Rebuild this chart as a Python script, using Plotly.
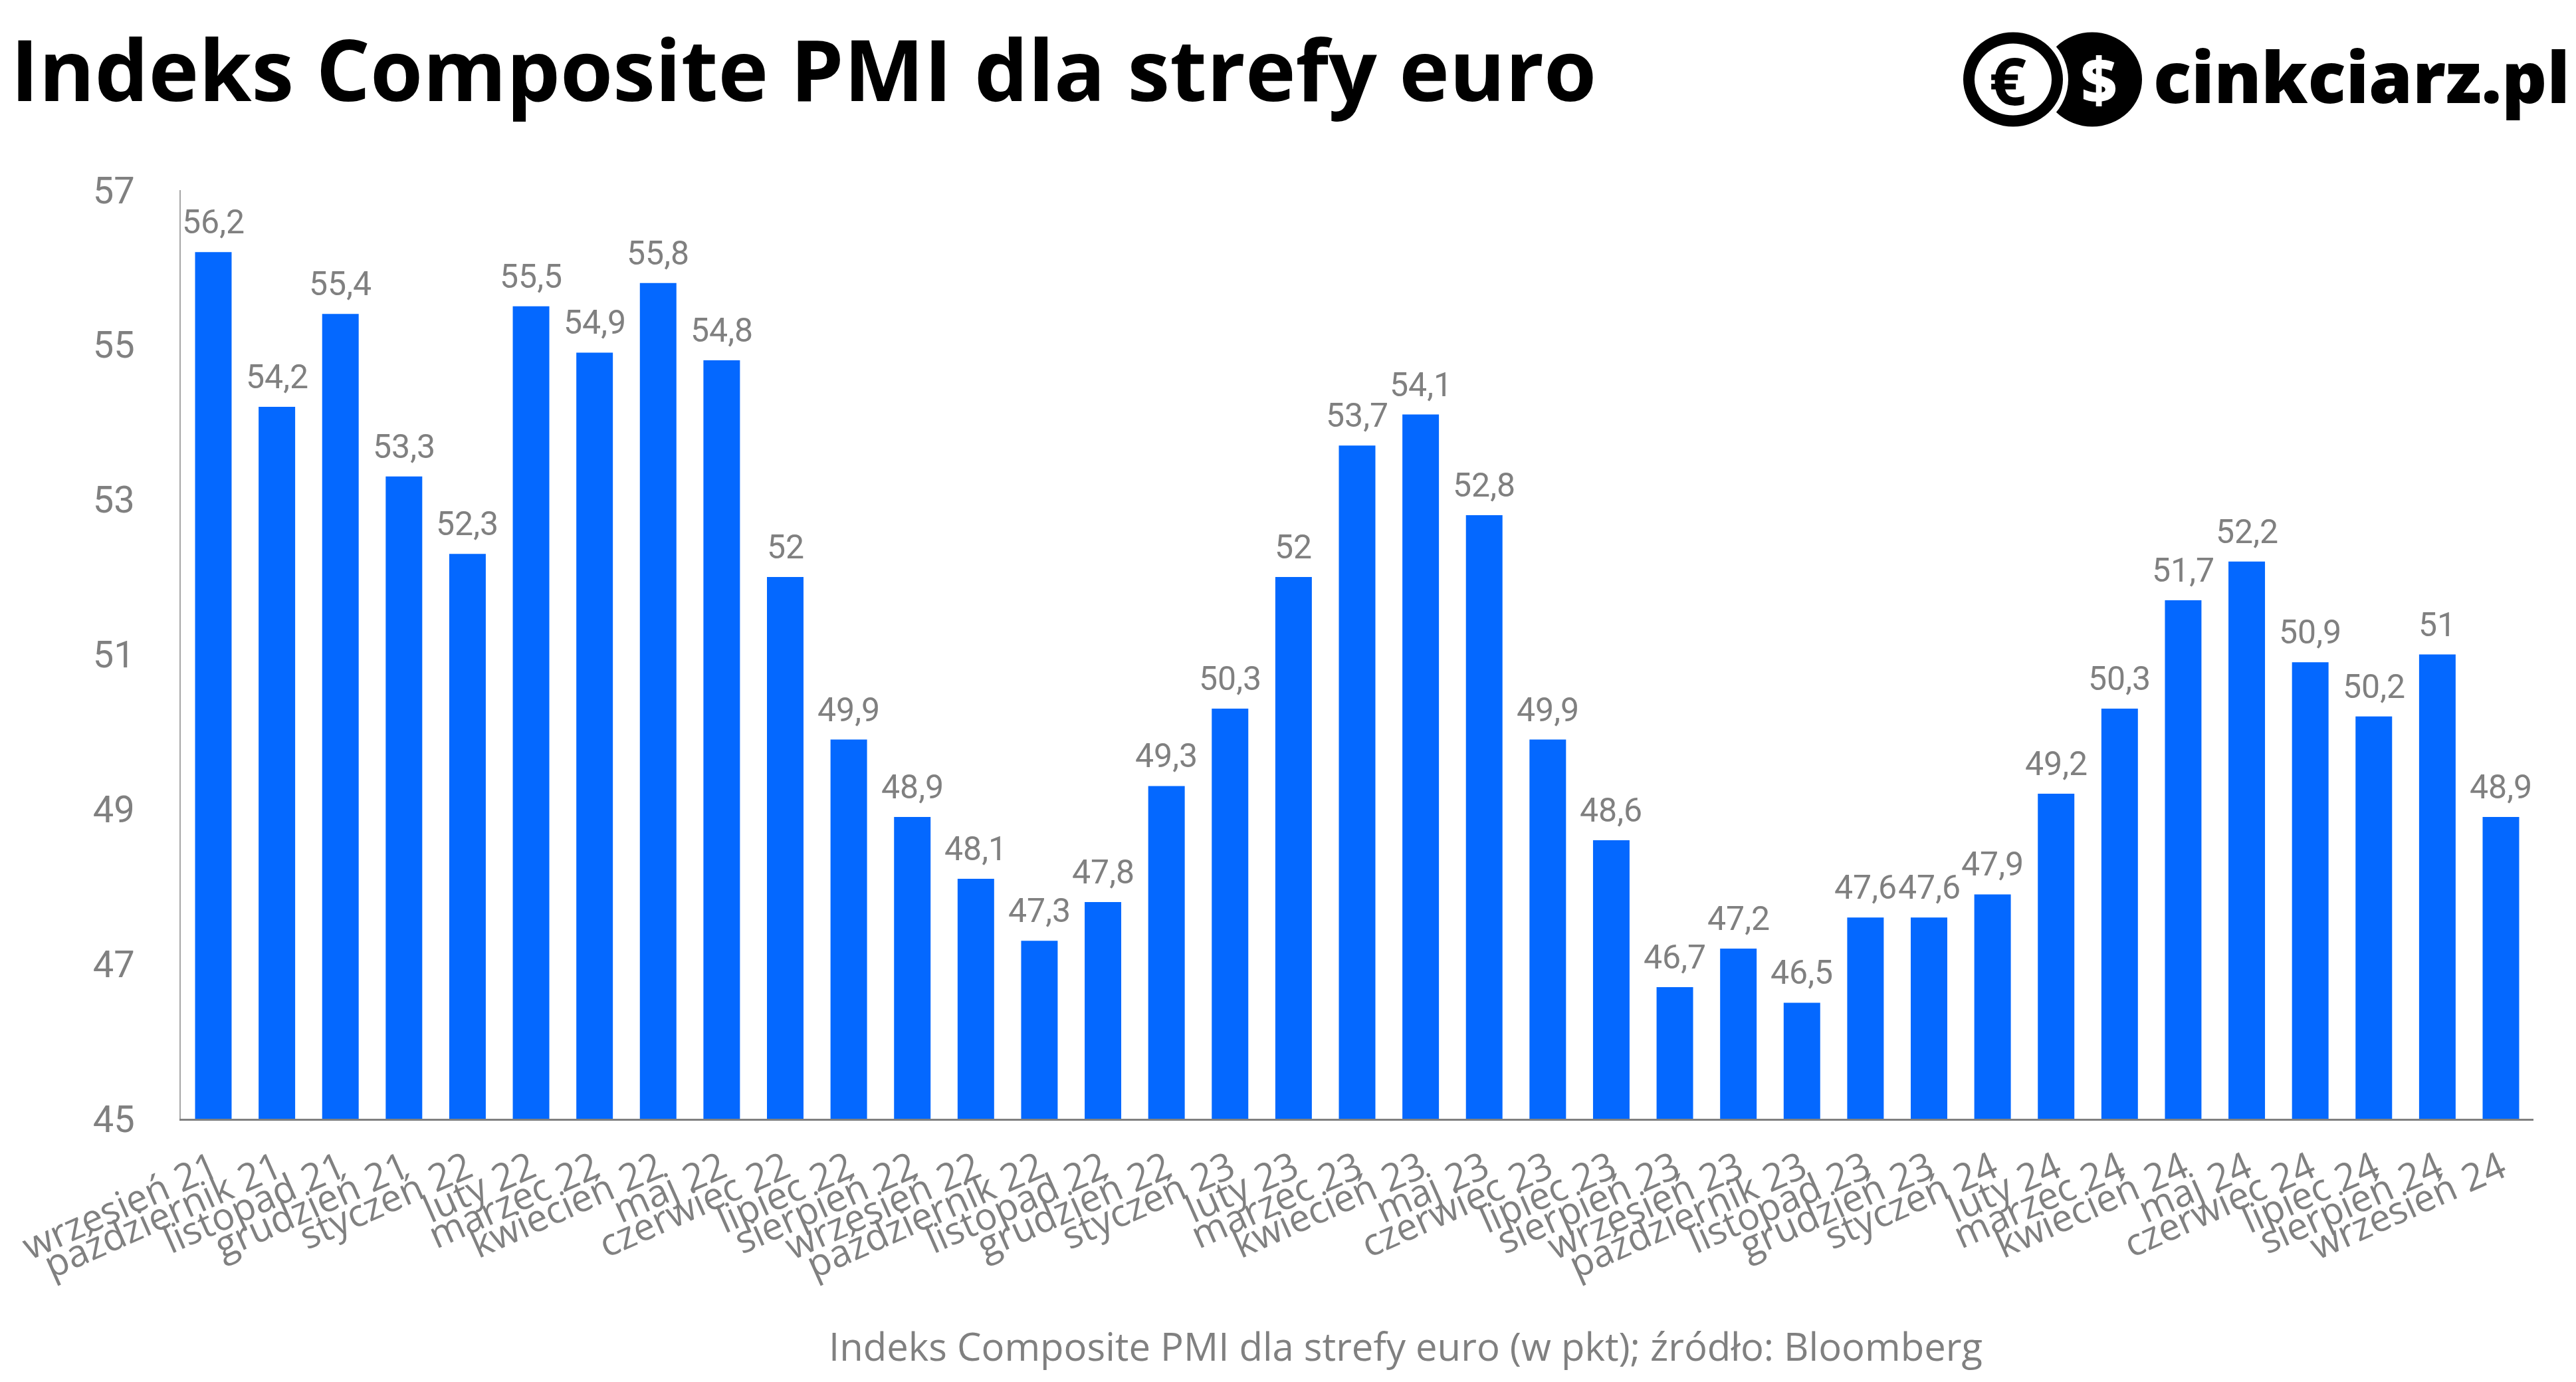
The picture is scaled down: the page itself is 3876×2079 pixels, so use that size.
import plotly.graph_objects as go

categories = ["wrzesień 21", "październik 21", "listopad 21", "grudzień 21", "styczeń 22",
              "luty 22", "marzec 22", "kwiecień 22", "maj 22", "czerwiec 22", "lipiec 22",
              "sierpień 22", "wrzesień 22", "październik 22", "listopad 22", "grudzień 22",
              "styczeń 23", "luty 23", "marzec 23", "kwiecień 23", "maj 23", "czerwiec 23",
              "lipiec 23", "sierpień 23", "wrzesień 23", "październik 23", "listopad 23",
              "grudzień 23", "styczeń 24", "luty 24", "marzec 24", "kwiecień 24", "maj 24",
              "czerwiec 24", "lipiec 24", "sierpień 24", "wrzesień 24"]
values = [56.2, 54.2, 55.4, 53.3, 52.3, 55.5, 54.9, 55.8, 54.8, 52, 49.9, 48.9, 48.1,
          47.3, 47.8, 49.3, 50.3, 52, 53.7, 54.1, 52.8, 49.9, 48.6, 46.7, 47.2, 46.5,
          47.6, 47.6, 47.9, 49.2, 50.3, 51.7, 52.2, 50.9, 50.2, 51, 48.9]
y_ticks = [45, 47, 49, 51, 53, 55, 57]

title_text = "Indeks Composite PMI dla strefy euro"
footer_text = "Indeks Composite PMI dla strefy euro (w pkt); źródło: Bloomberg"

W, H = 3876, 2079
L, R, T, B = 264, 72, 278, 404
PW, PH = W - L - R, H - T - B

def px(x):
    return (x - L) / PW

def py(y):
    return (H - B - y) / PH

BLUE = "#0468FF"
GRAY = "#808080"
NUMFONT = "Roboto"

fig = go.Figure()
fig.add_trace(go.Bar(x=categories, y=values, marker=dict(color=BLUE, line=dict(width=0)),
                     hoverinfo="x+y"))

annotations = []
for c, v in zip(categories, values):
    annotations.append(dict(x=c, y=v, xref="x", yref="y", text=f"{v:g}".replace(".", ","),
                            showarrow=False, yanchor="bottom", yshift=14,
                            font=dict(family=NUMFONT, size=50, color=GRAY)))

# title
annotations.append(dict(x=px(6), y=py(94), xref="paper", yref="paper", text=title_text,
                        showarrow=False, xanchor="left", yanchor="middle",
                        font=dict(family="Open Sans", size=128, color="#000000", weight=700)))
# footer
annotations.append(dict(x=px(2107), y=py(2016), xref="paper", yref="paper", text=footer_text,
                        showarrow=False, xanchor="center", yanchor="middle",
                        font=dict(family="Open Sans", size=58, color=GRAY)))

# logo
ecx, ecy, rx, ry = 3021, 111.5, 75, 71
dcx = 3140
shapes = []
def ell(cx, cy, ax, ay, color):
    return dict(type="circle", xref="paper", yref="paper", x0=px(cx - ax), x1=px(cx + ax),
                y0=py(cy + ay), y1=py(cy - ay), fillcolor=color, line=dict(width=0),
                layer="above")
shapes.append(ell(dcx, ecy, rx, ry, "#000000"))
shapes.append(ell(ecx, ecy, rx + 8, ry + 8, "#FFFFFF"))
shapes.append(ell(ecx, ecy, rx, ry, "#000000"))
shapes.append(ell(ecx, ecy, 58, 54, "#FFFFFF"))

annotations.append(dict(x=px(3013), y=py(112), xref="paper", yref="paper", text="€",
                        showarrow=False, xanchor="center", yanchor="middle",
                        font=dict(family="Open Sans", size=98, color="#000000", weight=700)))
annotations.append(dict(x=px(3150), y=py(111), xref="paper", yref="paper", text="$",
                        showarrow=False, xanchor="center", yanchor="middle",
                        font=dict(family="Open Sans", size=94, color="#FFFFFF", weight=800)))
annotations.append(dict(x=px(3230), y=py(106), xref="paper", yref="paper", text="cinkciarz.pl",
                        showarrow=False, xanchor="left", yanchor="middle",
                        font=dict(family="Open Sans", size=106,
                                  color="#000000", weight=800)))

fig.update_layout(
    width=W, height=H,
    margin=dict(l=L, r=R, t=T, b=B, pad=0),
    paper_bgcolor="white", plot_bgcolor="white",
    showlegend=False, bargap=0.425,
    annotations=annotations, shapes=shapes,
    xaxis=dict(type="category", showline=True, linecolor=GRAY, linewidth=3,
               ticks="", showgrid=False, zeroline=False, tickangle=-24,
               tickfont=dict(family="Open Sans", size=57, color=GRAY),
               ticklabelstandoff=16),
    yaxis=dict(range=[45, 57], tickvals=y_ticks, ticktext=[str(t) for t in y_ticks],
               showline=True, linecolor="#A6A6A6", linewidth=2, ticks="",
               showgrid=False, zeroline=False,
               tickfont=dict(family=NUMFONT, size=56, color=GRAY),
               ticklabelstandoff=56),
)

fig.write_html("out.html")
